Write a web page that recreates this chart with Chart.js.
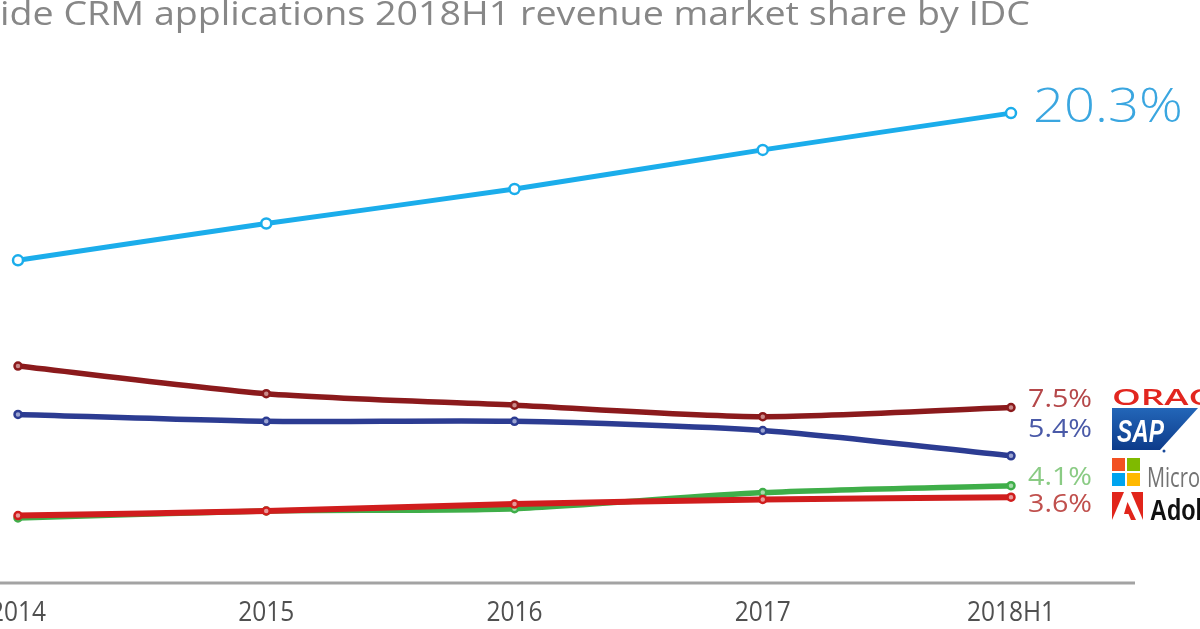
<!DOCTYPE html>
<html>
<head>
<meta charset="utf-8">
<script src="https://cdn.jsdelivr.net/npm/chart.js@4.4.1/dist/chart.umd.min.js"></script>
<style>
  html, body { margin: 0; padding: 0; background: #fff; }
  #wrap { width: 1200px; height: 629px; position: relative; }
</style>
</head>
<body>
<div id="wrap"><canvas id="crmChart" width="1200" height="629"></canvas></div>
<script>
// chart data
const titleText = "ide CRM applications 2018H1 revenue market share by IDC";
const years = ["2014", "2015", "2016", "2017", "2018H1"];
const salesforce = [13.9, 15.5, 17.0, 18.7, 20.3];
const oracle = [9.3, 8.1, 7.6, 7.1, 7.5];
const sap = [7.2, 6.9, 6.9, 6.5, 5.4];
const microsoft = [2.7, 3.0, 3.1, 3.8, 4.1];
const adobe = [2.8, 3.0, 3.3, 3.5, 3.6];

// draws text squeezed/stretched to a given width
function fitText(ctx, text, x, y, w, align) {
    const m = ctx.measureText(text).width;
    ctx.save();
    ctx.translate(x, y);
    ctx.scale(w / m, 1);
    ctx.textAlign = align || "left";
    ctx.fillText(text, 0, 0);
    ctx.restore();
}

const decorPlugin = {
    id: "decor",
    beforeDatasetsDraw(chart) {
        const ctx = chart.ctx;
        const xs = chart.scales.x;
        const area = chart.chartArea;

        // title
        ctx.save();
        ctx.fillStyle = "#878787";
        ctx.font = "33px 'Open Sans', sans-serif";
        ctx.textBaseline = "alphabetic";
        fitText(ctx, titleText, 0, 25, 1030);

        // axis line
        ctx.strokeStyle = "#a3a3a3";
        ctx.lineWidth = 3;
        ctx.beginPath();
        ctx.moveTo(0, area.bottom + 3);
        ctx.lineTo(1135, area.bottom + 3);
        ctx.stroke();

        // x tick labels
        ctx.fillStyle = "#505050";
        ctx.font = "27px 'Open Sans', sans-serif";
        const k = 56 / ctx.measureText("2015").width;
        years.forEach((y, i) => {
            fitText(ctx, y, xs.getPixelForValue(i), 621, ctx.measureText(y).width * k, "center");
        });
        ctx.restore();
    },
    afterDatasetsDraw(chart) {
        const ctx = chart.ctx;
        ctx.save();
        ctx.textBaseline = "alphabetic";
        ctx.textAlign = "left";

        // end value labels
        const last = salesforce.length - 1;
        ctx.font = "300 48px 'Open Sans', sans-serif";
        ctx.fillStyle = "#3aa6e0";
        fitText(ctx, salesforce[last].toFixed(1) + "%", 1033, 122, 150);

        const rows = [
            { v: oracle[last], c: "#b5484a", y: 407 },
            { v: sap[last], c: "#4a5aa8", y: 437 },
            { v: microsoft[last], c: "#8acb84", y: 485 },
            { v: adobe[last], c: "#c0504d", y: 512 }
        ];
        ctx.font = "25px 'Open Sans', sans-serif";
        rows.forEach(r => {
            ctx.fillStyle = r.c;
            fitText(ctx, r.v.toFixed(1) + "%", 1028, r.y, 64);
        });

        // Oracle logo text
        ctx.fillStyle = "#e2261f";
        ctx.font = "600 21px 'Open Sans', sans-serif";
        fitText(ctx, "ORACLE", 1112, 405, 140);

        // SAP logo
        const g = ctx.createLinearGradient(0, 408, 0, 450);
        g.addColorStop(0, "#2366b8");
        g.addColorStop(1, "#0d3b8a");
        ctx.fillStyle = g;
        ctx.beginPath();
        ctx.moveTo(1112, 408);
        ctx.lineTo(1198, 408);
        ctx.lineTo(1160, 450);
        ctx.lineTo(1112, 450);
        ctx.closePath();
        ctx.fill();
        ctx.fillStyle = "#fff";
        ctx.font = "italic bold 32px 'Liberation Sans', sans-serif";
        fitText(ctx, "SAP", 1117, 442, 47);
        ctx.fillStyle = "#1a4a9a";
        ctx.beginPath();
        ctx.arc(1164, 451, 1.5, 0, Math.PI * 2);
        ctx.fill();

        // Microsoft logo
        const sq = [["#f25022", 0, 0], ["#7fba00", 15, 0], ["#00a4ef", 0, 15], ["#ffb900", 15, 15]];
        sq.forEach(s => {
            ctx.fillStyle = s[0];
            ctx.fillRect(1112 + s[1], 458 + s[2], 13, 13);
        });
        ctx.fillStyle = "#737373";
        ctx.font = "28px 'Open Sans', sans-serif";
        const mw = ctx.measureText("Micro").width;
        fitText(ctx, "Microsoft", 1147, 487, ctx.measureText("Microsoft").width * 53 / mw);

        // Adobe logo
        ctx.fillStyle = "#e1251b";
        ctx.beginPath();
        ctx.moveTo(1112, 492); ctx.lineTo(1124, 492); ctx.lineTo(1112, 520); ctx.closePath();
        ctx.fill();
        ctx.beginPath();
        ctx.moveTo(1131, 492); ctx.lineTo(1143, 492); ctx.lineTo(1143, 520); ctx.closePath();
        ctx.fill();
        ctx.beginPath();
        ctx.moveTo(1127.5, 502); ctx.lineTo(1136, 520); ctx.lineTo(1131, 520);
        ctx.lineTo(1128.5, 514); ctx.lineTo(1124, 514); ctx.closePath();
        ctx.fill();
        ctx.fillStyle = "#111";
        ctx.font = "bold 30px 'Liberation Sans', sans-serif";
        const aw = ctx.measureText("Adol").width;
        fitText(ctx, "Adobe", 1150, 520, ctx.measureText("Adobe").width * 52 / aw);

        ctx.restore();
    }
};

function lineSet(label, data, color, fill, radius, width) {
    return {
        label: label,
        data: data,
        borderColor: color,
        backgroundColor: fill,
        pointBorderColor: color,
        pointBackgroundColor: fill,
        pointRadius: radius,
        pointBorderWidth: 2.5,
        borderWidth: width,
        tension: 0.25,
        clip: false
    };
}

const ctx = document.getElementById("crmChart").getContext("2d");
new Chart(ctx, {
    type: "line",
    data: {
        labels: years,
        datasets: [
            lineSet("Salesforce", salesforce, "#1badeb", "#ffffff", 5, 5),
            lineSet("Oracle", oracle, "#8b1a1c", "#c98a8a", 3.5, 5.5),
            lineSet("SAP", sap, "#2c3c92", "#9aa3d0", 3.5, 5.5),
            lineSet("Adobe", adobe, "#d01d1d", "#e89a9a", 3.5, 6),
            lineSet("Microsoft", microsoft, "#3fae49", "#a5daa9", 3.5, 5.5)
        ]
    },
    options: {
        responsive: false,
        animation: false,
        events: [],
        layout: {
            autoPadding: false,
            padding: { left: 18, right: 189, top: 5, bottom: 49 }
        },
        plugins: {
            legend: { display: false },
            tooltip: { enabled: false },
            title: { display: false }
        },
        scales: {
            x: {
                type: "category",
                display: false,
                offset: false
            },
            y: {
                display: false,
                min: 0,
                max: 25
            }
        }
    },
    plugins: [decorPlugin]
});
</script>
</body>
</html>
